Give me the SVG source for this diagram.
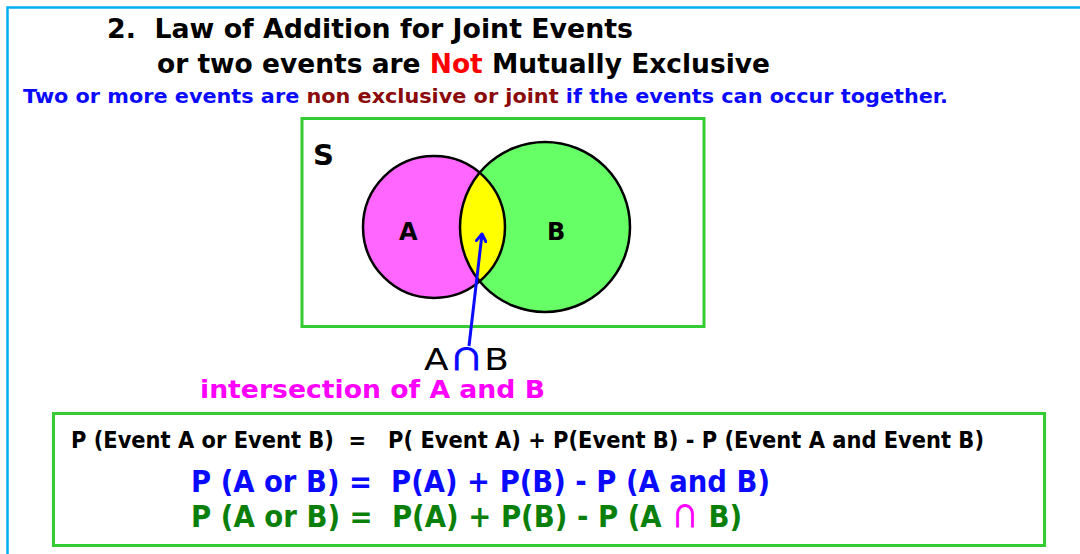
<svg xmlns="http://www.w3.org/2000/svg" width="1080" height="554" viewBox="0 0 1080 554">
<style>
text{font-family:"DejaVu Sans","Verdana",sans-serif;white-space:pre}
.b{font-weight:bold}
.cap{font-family:"Noto Sans CJK JP","DejaVu Sans",sans-serif;font-weight:bold}
.blk{fill:#000}
.blue{fill:#0a0aff}
.red{fill:#ff0000}
.dred{fill:#8b0a0a}
.mag{fill:#ff00ff}
.grn{fill:#0a800a}
.frame{fill:none;stroke:#33cc33;stroke-width:3}
.circ{fill:none;stroke:#000;stroke-width:2.5}
</style>
<defs>
<marker id="chev" viewBox="0 0 10 10" refX="7" refY="5" markerWidth="4" markerHeight="4" orient="auto" markerUnits="strokeWidth">
<polyline points="1,1 7,5 1,9" fill="none" stroke="#0a0aff" stroke-width="2.5" stroke-linecap="round" stroke-linejoin="round"/>
</marker>
</defs>
<rect width="1080" height="554" fill="#fff"/>
<g id="outer-frame">
<path d="M7.5 560 L7.5 7.5 L1090 7.5" fill="none" stroke="#00b0f0" stroke-width="2.5"/>
</g>
<g id="title">
<text x="107" y="38" class="b blk" font-size="27" textLength="526" lengthAdjust="spacingAndGlyphs">2.  Law of Addition for Joint Events</text>
<text x="157" y="73" class="b blk" font-size="27" textLength="613" lengthAdjust="spacingAndGlyphs">or two events are <tspan class="red">Not</tspan> Mutually Exclusive</text>
<text x="23" y="103" class="b blue" font-size="19.5" textLength="925" lengthAdjust="spacingAndGlyphs">Two or more events are <tspan class="dred">non exclusive or joint</tspan> if the events can occur together.</text>
</g>
<g id="venn">
<rect x="302" y="118.5" width="402" height="208" class="frame"/>
<text x="313" y="165" class="b blk" font-size="29">S</text>
<circle cx="434" cy="227" r="71" fill="#ff66ff"/>
<circle cx="545" cy="227" r="85" fill="#66ff66"/>
<path d="M480 173 A71 71 0 0 1 480 281 A85 85 0 0 1 480 173 Z" fill="#ffff00"/>
<circle cx="434" cy="227" r="71" class="circ"/>
<circle cx="545" cy="227" r="85" class="circ"/>
<text x="399" y="240" class="b blk" font-size="24">A</text>
<text x="547" y="240" class="b blk" font-size="24">B</text>
</g>
<g id="connectors">
<line x1="469" y1="346" x2="482" y2="234" stroke="#0a0aff" stroke-width="3" marker-end="url(#chev)"/>
</g>
<g id="intersection-label">
<text x="424" y="370" class="blk" font-size="30" textLength="85" lengthAdjust="spacingAndGlyphs">A<tspan class="blue cap">∩</tspan>B</text>
<text x="200" y="398" class="b mag" font-size="25" textLength="345" lengthAdjust="spacingAndGlyphs">intersection of A and B</text>
</g>
<g id="formula-box">
<rect x="53.5" y="413.5" width="991" height="132" class="frame"/>
<text x="71" y="448" class="b blk" font-size="23" textLength="913" lengthAdjust="spacingAndGlyphs">P (Event A or Event B)  =   P( Event A) + P(Event B) - P (Event A and Event B)</text>
<text x="191" y="492" class="b blue" font-size="30" textLength="579" lengthAdjust="spacingAndGlyphs">P (A or B) =  P(A) + P(B) - P (A and B)</text>
<text x="191" y="527" class="b grn" font-size="30" textLength="551" lengthAdjust="spacingAndGlyphs">P (A or B) =  P(A) + P(B) - P (A <tspan class="mag cap">∩</tspan> B)</text>
</g>
</svg>
